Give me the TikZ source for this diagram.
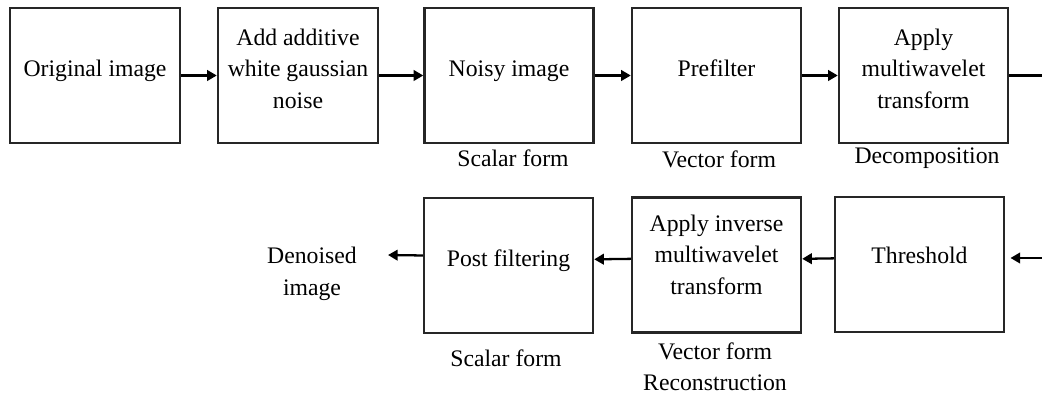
\documentclass[tikz,border=0pt]{standalone}
\usepackage{fontspec}
\setmainfont{Liberation Serif}
\usetikzlibrary{arrows.meta}
\tikzset{
  every picture/.style={font=\fontsize{13.5}{17.9}\selectfont, line width=1.4pt},
  box/.style={draw=black!85, align=center, minimum width=3.38cm, minimum height=2.7cm, inner sep=2pt},
  lift/.style={text depth=#1},
  arrow/.style={-{Triangle[length=5.5pt,width=6pt]}, draw=black, line width=1.3pt},
  note/.style={align=center, inner sep=1pt},
}

\begin{document}
\begin{tikzpicture}[x=0.02cm, y=-0.02cm]
  \useasboundingbox (0,0) rectangle (1042,394);
  % top row: decomposition
  \node[box, lift=8pt, minimum width=3.4cm] (orig) at (95,75.5) {Original image};
  \node[box, lift=8pt, minimum width=3.2cm] (awgn) at (298,75.5) {Add additive\\white gaussian\\noise};
  \node[box, lift=8pt] (noisy) at (509,75.5) {Noisy image};
  \node[box, lift=8pt] (prefilt) at (716.5,75.5) {Prefilter};
  \node[box, lift=8pt] (mwt) at (923.5,75.5) {Apply\\multiwavelet\\transform};
  \node[note] (sc1) at (513,158) {Scalar form};
  \node[note] (vf1) at (719,159) {Vector form};
  \node[note] (dec) at (927,158) {Decomposition};
  \draw[arrow] (orig) -- (awgn); \draw[arrow] (awgn) -- (noisy);
  \draw[arrow] (noisy) -- (prefilt); \draw[arrow] (prefilt) -- (mwt);
  \coordinate (topexit) at (1042,75.5);
  \draw (mwt.east) -- (topexit);
  % bottom row: reconstruction
  \node[box, lift=10pt] (thresh) at (919.5,264.5) {Threshold};
  \node[box, lift=12pt] (invmwt) at (716.5,265) {Apply inverse\\multiwavelet\\transform};
  \node[box, lift=8pt] (post) at (508.5,265.5) {Post filtering};
  \node[note] (denoised) at (312,274) {Denoised\\image};
  \node[note] (sc2) at (506,358) {Scalar form};
  \node[note] (vfrec) at (715,367) {Vector form\\Reconstruction};
  \coordinate (botentry) at (1042,258);
  \coordinate (dtip) at (388,255);
  \draw[arrow, shorten >=3pt] (botentry) -- (botentry -| thresh.east);
  \draw[arrow] ([yshift=3.5pt]thresh.west) -- ([yshift=3.5pt]invmwt.east);
  \draw[arrow] ([yshift=3.5pt]invmwt.west) -- ([yshift=3.5pt]post.east);
  \draw[arrow] ([yshift=5.7pt]post.west) -- (dtip);
\end{tikzpicture}
\end{document}
